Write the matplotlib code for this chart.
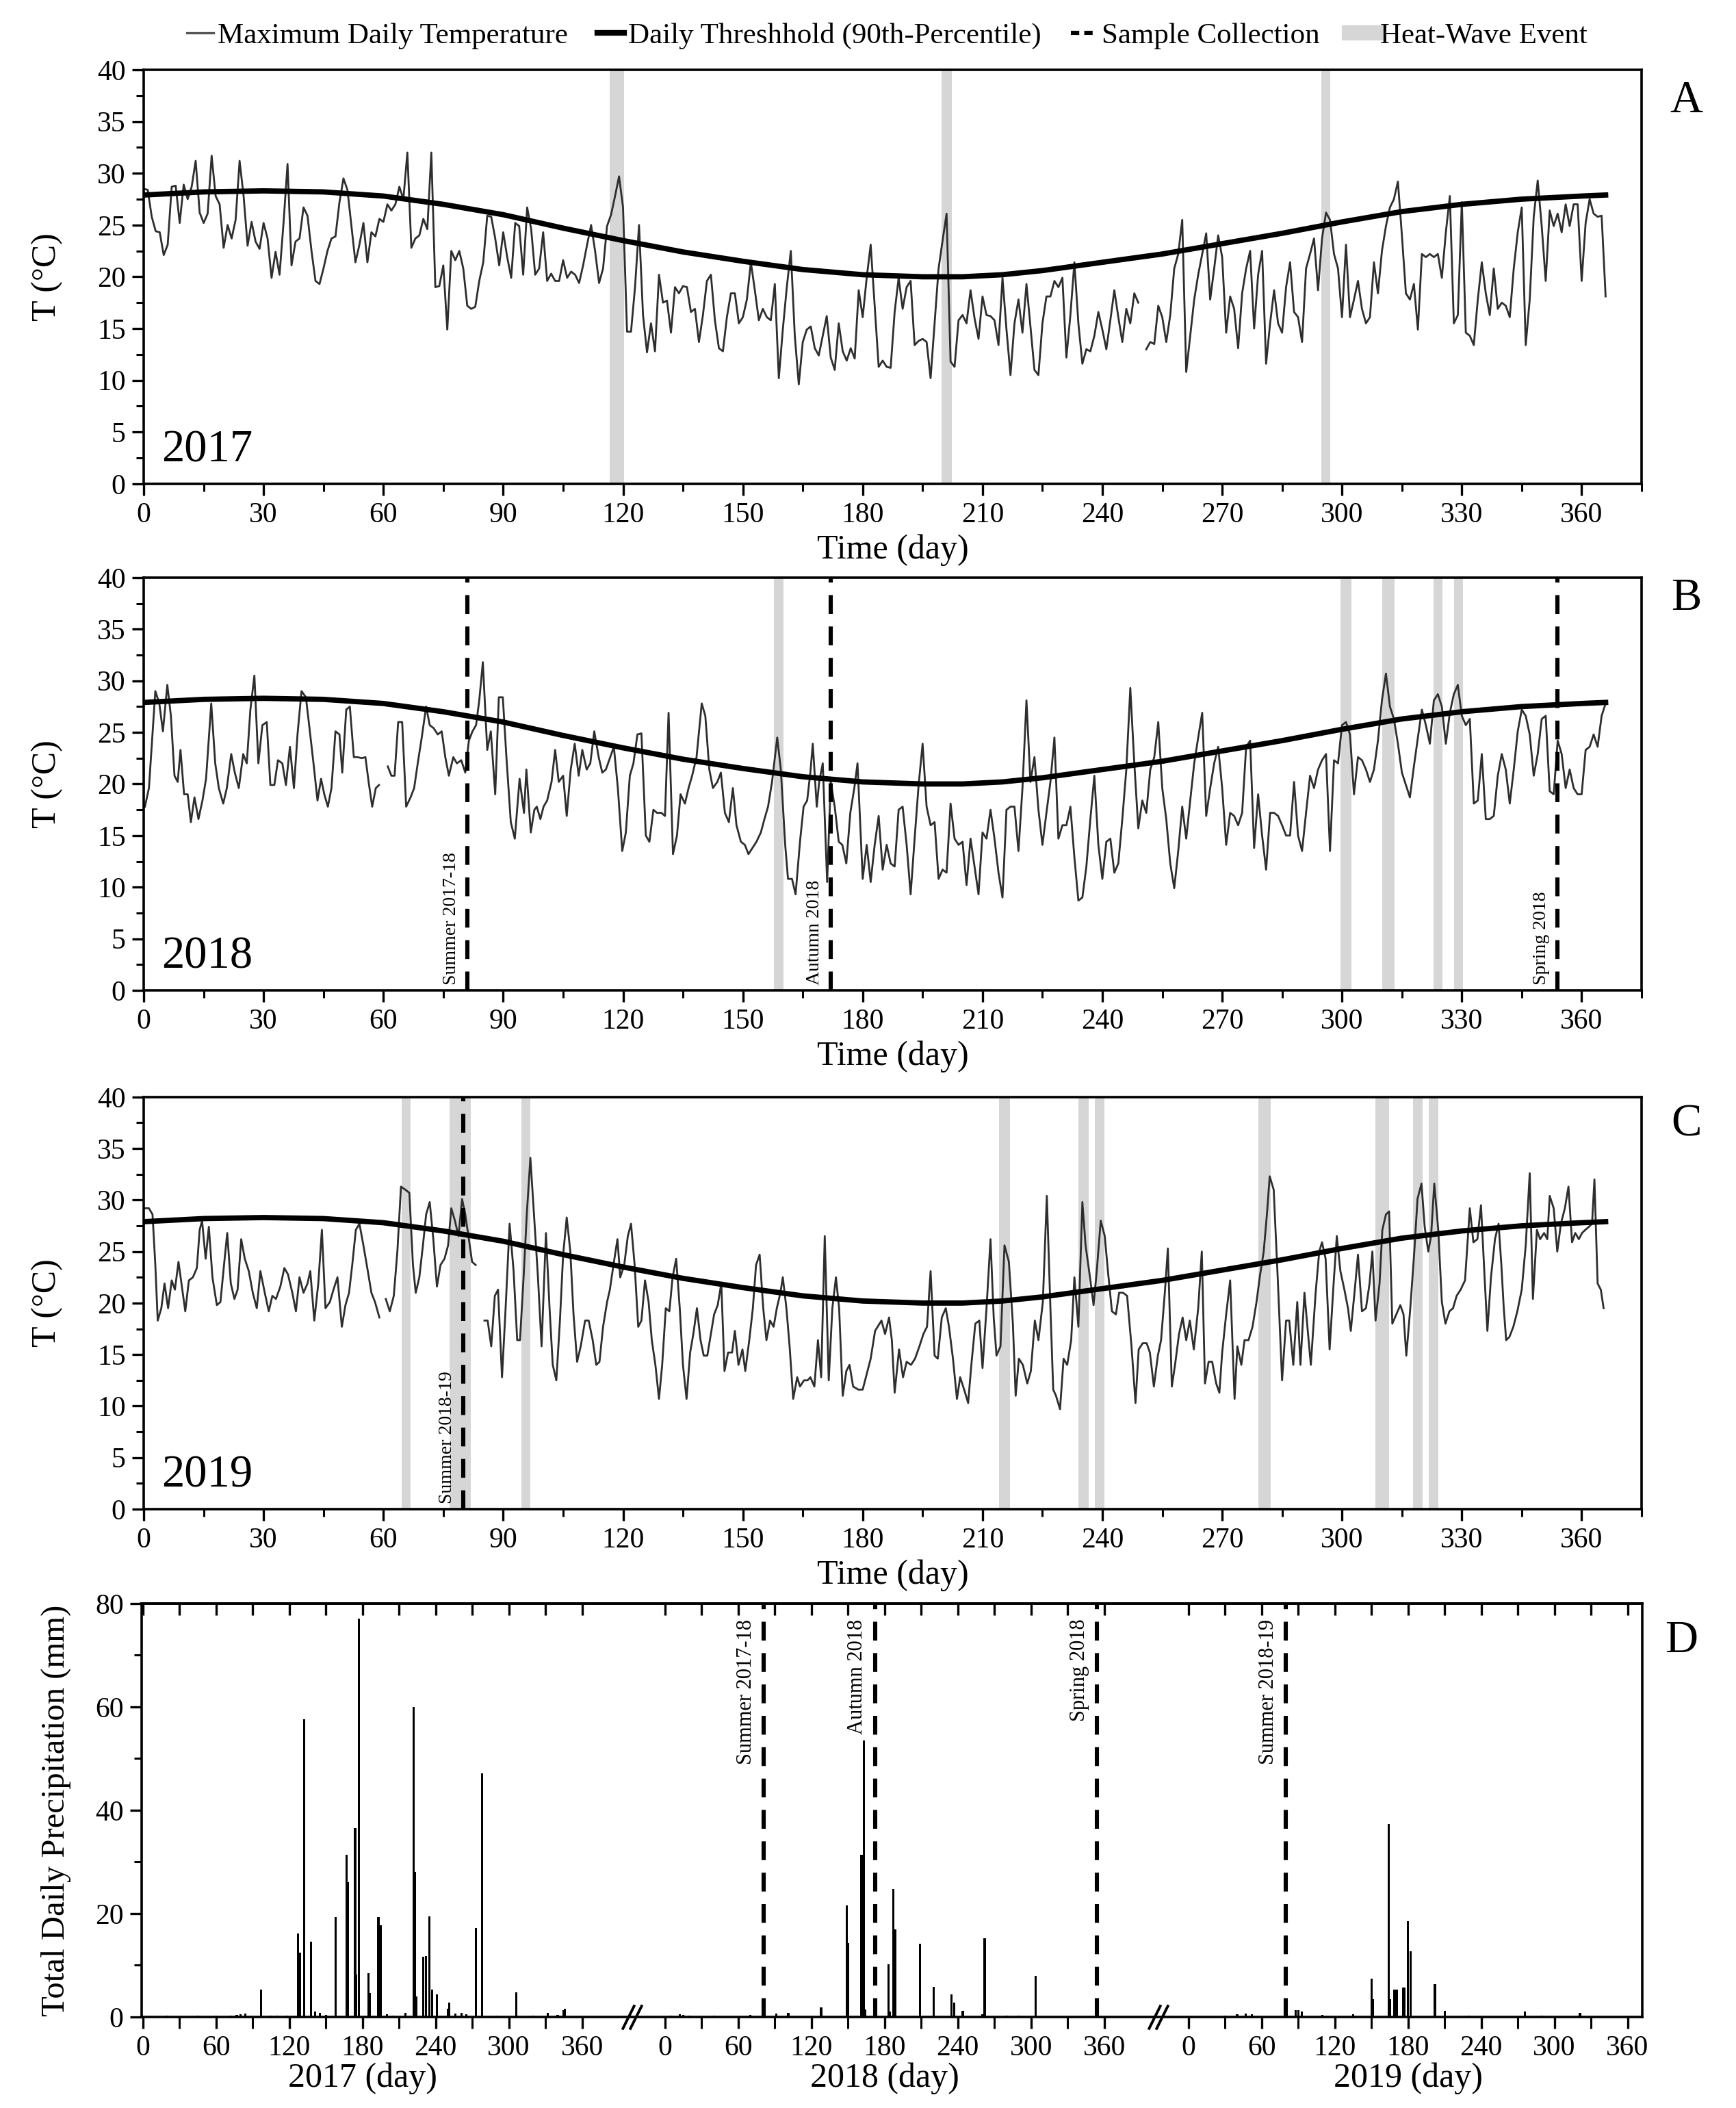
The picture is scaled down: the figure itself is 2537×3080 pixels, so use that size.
import numpy as np
import matplotlib
matplotlib.use("Agg")
from matplotlib import pyplot as plt
from matplotlib.lines import Line2D
from matplotlib.ticker import MultipleLocator
import matplotlib.transforms as mtransforms

plt.rcParams['font.family'] = ['Liberation Serif', 'DejaVu Serif']

nan = np.nan

# ---------------- data ----------------
# daily threshold (90th percentile), same curve in the three years
thr_day = [0, 15, 30, 45, 60, 75, 90, 105, 120, 135, 150, 165, 180, 195, 205,
           215, 225, 240, 255, 270, 285, 300, 315, 330, 345, 360, 366]
thr_temp = [27.9, 28.2, 28.3, 28.2, 27.8, 27.0, 26.0, 24.7, 23.5, 22.4, 21.5, 20.7, 20.2, 20.0, 20.0,
            20.2, 20.6, 21.4, 22.2, 23.2, 24.2, 25.3, 26.3, 27.0, 27.5, 27.8, 27.9]

# 2017 max daily temperature, day 0..366
a_tmax = [
    28.5, 28.4, 25.8, 24.4, 24.3, 22.1, 23.1, 28.7, 28.8, 25.2,
    28.9, 27.5, 28.7, 31.2, 26.2, 25.2, 26.1, 31.7, 27.8, 27.0,
    22.8, 25.0, 23.7, 25.5, 31.2, 27.8, 23.0, 25.3, 23.4, 22.7,
    25.2, 23.7, 19.9, 22.4, 20.2, 25.2, 30.9, 21.1, 23.4, 23.7,
    26.7, 25.9, 22.5, 19.6, 19.3, 20.8, 22.5, 23.7, 23.9, 27.2,
    29.5, 28.4, 24.9, 21.4, 23.1, 25.2, 21.4, 24.3, 23.9, 25.6,
    25.3, 27.0, 26.4, 27.0, 28.7, 27.5, 32.0, 22.8, 23.7, 24.0,
    25.6, 24.6, 32.0, 19.0, 19.1, 21.1, 14.9, 22.5, 21.6, 22.5,
    20.8, 17.2, 16.9, 17.1, 19.6, 21.4, 25.9, 25.8, 23.7, 21.1,
    24.3, 21.9, 19.9, 25.2, 24.9, 20.2, 26.7, 24.6, 20.2, 20.8,
    24.3, 19.6, 20.3, 19.6, 19.6, 21.6, 19.9, 20.5, 20.2, 19.4,
    21.1, 23.1, 25.0, 22.5, 19.4, 20.8, 24.9, 26.0, 27.8, 29.7,
    26.7, 14.7, 14.7, 19.0, 25.0, 16.3, 12.7, 15.5, 12.8, 20.2,
    17.5, 17.7, 14.6, 19.0, 18.4, 19.1, 19.0, 16.6, 16.9, 13.7,
    16.3, 19.6, 20.2, 15.8, 13.1, 12.8, 16.1, 18.4, 18.4, 15.5,
    16.1, 17.8, 21.4, 18.7, 15.8, 16.9, 16.1, 15.8, 19.3, 10.2,
    14.9, 19.0, 22.5, 14.3, 9.6, 13.7, 14.9, 15.2, 13.1, 12.4,
    14.3, 16.2, 12.2, 11.0, 15.5, 12.8, 11.9, 13.1, 12.1, 18.7,
    16.1, 19.9, 23.1, 17.2,
    11.3, 11.9, 11.3, 11.2, 16.6, 19.9, 16.9, 19.0, 19.6, 13.4,
    13.8, 14.0, 13.7, 10.2, 15.5, 20.8, 23.5, 26.1, 11.8, 11.3,
    15.8, 16.3, 15.5, 18.7, 16.0, 14.0, 18.1, 16.3, 16.2, 15.8,
    13.4, 19.9, 14.9, 10.5, 15.5, 17.8, 14.6, 19.3, 15.2, 11.0,
    10.5, 15.5, 18.1, 18.1, 19.6, 19.0, 19.9, 12.2, 16.3, 21.4,
    15.5, 11.6, 13.0, 12.8, 14.3, 16.6, 14.9, 13.0, 15.8, 18.7,
    16.1, 13.7, 16.9, 15.5, 18.4, 17.5, nan, 13.0, 13.7, 13.5,
    17.2, 16.1, 13.7, 16.3, 20.8, 22.2, 25.5, 10.8, 14.3, 17.8,
    20.2, 22.2, 24.2, 17.8, 20.8, 24.0, 21.9, 14.6, 18.1, 16.9,
    13.1, 18.4, 20.8, 22.5, 15.0, 20.2, 22.5, 11.6, 15.5, 18.7,
    15.5, 14.6, 19.0, 21.4, 16.6, 16.1, 13.7, 20.8, 22.2, 23.7,
    18.7, 23.7, 26.2, 25.5, 22.2, 20.8, 16.1, 23.1, 16.1, 17.8,
    19.6, 16.9, 15.5, 16.1, 21.4, 18.4, 22.5, 24.9, 26.7, 27.5,
    29.2, 24.0, 18.4, 17.8, 19.3, 14.9, 22.2, 21.9, 22.2, 21.9,
    22.2, 19.9, 24.3, 27.8, 15.5, 16.3, 27.2, 14.6, 14.3, 13.4,
    17.8, 21.4, 18.4, 16.3, 20.8, 16.9, 17.5, 17.2, 16.1, 20.8,
    24.3, 26.7, 13.4, 17.8, 25.8, 29.3, 24.9, 19.6, 26.4, 24.9,
    26.1, 24.3, 27.0, 24.9, 27.0, 27.0, 19.6, 25.2, 27.5, 26.1,
    25.8, 25.9, 18.1,
]
a_day = np.arange(len(a_tmax))

# 2018: first half read at line vertices, second half daily from day 180
b_day_early = [
    0.3, 1.3, 2.9, 3.9, 4.8, 5.9, 6.8, 7.7, 8.5, 9.2,
    10.1, 11.0, 11.8, 12.7, 13.7, 14.7, 15.6, 16.9, 17.9, 18.8,
    19.9, 20.8, 21.9, 22.8, 23.8, 24.9, 25.8, 26.7, 27.7, 28.7,
    29.7, 30.8, 31.7, 32.7, 33.6, 34.7, 35.6, 36.6, 37.6, 38.5,
    39.5, 40.6, 41.5, 42.5, 43.5, 44.4, 45.2, 46.1, 47.0, 48.0,
    49.0, 49.7, 50.7, 51.6, 52.6, 53.5, 54.6, 55.5, 56.3, 57.2,
    58.1, 58.9, 60.0, 61.1, 62.0, 62.8, 63.7, 64.7, 65.7, 66.8,
    67.7, 68.6, 69.6, 70.7, 71.6, 72.6, 73.6, 74.6, 75.5, 76.4,
    77.5, 78.4, 79.5, 80.5, 81.4, 82.3, 83.2, 84.0, 84.9, 86.0,
    86.9, 88.0, 88.9, 89.9, 90.8, 91.9, 92.9, 94.1, 95.2, 95.8,
    96.9, 97.8, 98.4, 99.3, 100.1, 101.0, 102.1, 103.0, 103.9, 105.0,
    105.9, 106.9, 107.9, 108.9, 109.8, 110.9, 111.8, 112.8, 113.9, 114.8,
    115.7, 116.8, 117.7, 118.7, 119.8, 120.7, 121.7, 122.6, 123.6, 124.6,
    125.7, 126.6, 127.6, 128.5, 129.6, 130.5, 131.4, 132.5, 133.5, 134.4,
    135.5, 136.4, 137.3, 138.4, 139.7, 140.6, 141.6, 142.5, 143.6, 144.5,
    145.5, 146.5, 147.5, 148.4, 149.5, 150.5, 151.4, 152.4, 153.4, 154.5,
    155.4, 156.3, 157.3, 158.6, 159.5, 160.6, 161.3, 162.3, 163.2, 164.3,
    165.2, 166.1, 166.9, 167.5, 168.5, 169.1, 170.0, 171.1, 172.0, 173.0,
    174.0, 174.9, 175.9, 176.9, 177.9, 178.7,
]
b_tmax_early = [
    17.8, 19.6, 29.0, 27.8, 25.1, 29.6, 26.6, 20.8, 20.2, 23.3,
    19.0, 19.0, 16.3, 18.7, 16.6, 18.4, 20.5, 27.8, 22.0, 19.6,
    18.1, 19.6, 22.9, 21.1, 19.6, 22.9, 22.0, 27.2, 30.5, 22.0,
    25.7, 26.0, 19.9, 19.9, 22.3, 22.0, 19.9, 23.6, 19.6, 24.8,
    29.0, 28.4, 25.4, 22.0, 18.4, 20.5, 19.0, 17.8, 19.6, 25.1,
    24.8, 21.1, 27.2, 27.5, 22.6, 22.6, 22.5, 22.6, 20.2, 17.8,
    19.6, 19.9, nan, 21.7, 20.8, 20.8, 26.0, 26.0, 17.8, 18.7,
    19.6, 22.0, 24.5, 27.5, 25.7, 25.4, 24.8, 25.1, 22.6, 20.8,
    22.6, 22.0, 22.3, 21.1, 24.2, 25.1, 25.7, 28.1, 31.8, 23.3,
    25.1, 19.0, 28.4, 28.4, 22.6, 16.3, 14.7, 20.5, 17.2, 21.4,
    15.3, 17.5, 17.8, 16.6, 17.8, 18.4, 20.2, 23.3, 20.2, 20.8,
    16.9, 21.4, 23.9, 20.8, 23.3, 21.4, 22.0, 25.1, 22.6, 21.1,
    21.4, 22.6, 23.6, 19.6, 13.5, 15.3, 20.8, 22.0, 24.8, 24.9,
    15.0, 14.4, 17.5, 17.2, 17.2, 16.9, 26.9, 13.2, 15.0, 19.0,
    18.1, 19.6, 20.8, 22.6, 27.8, 26.6, 21.4, 19.6, 20.2, 21.1,
    17.2, 16.3, 19.6, 16.0, 14.4, 14.1, 13.2, 13.8, 14.4, 15.3,
    16.6, 17.8, 20.2, 24.5, 21.4, 14.1, 10.8, 10.8, 9.3, 14.4,
    17.8, 18.4, 21.1, 23.9, 17.8, 20.2, 22.0, 10.5, 20.2, 17.8,
    14.4, 14.1, 12.3, 17.2, 19.6, 22.0,
]
b_tmax_late = [
    10.8, 14.1, 10.5, 14.1, 16.9, 11.7, 14.1, 12.3, 12.0, 17.5,
    17.8, 14.1, 9.3, 14.7, 19.9, 23.9, 17.8, 16.0, 16.3, 10.8,
    11.7, 11.4, 18.1, 14.7, 14.1, 14.4, 10.2, 14.7, 12.0, 9.3,
    15.3, 14.7, 17.5, 14.7, 11.4, 9.0, 17.5, 17.8, 17.8, 13.5,
    19.6, 28.1, 20.2, 22.6, 17.5, 14.1, 17.2, 20.2, 24.5, 14.7,
    16.0, 16.0, 17.8, 12.9, 8.7, 9.0, 12.0, 16.6, 20.8, 14.1,
    10.8, 14.4, 14.7, 11.4, 12.3, 16.6, 21.4, 29.3, 22.0, 15.7,
    18.4, 17.2, 21.4, 22.6, 26.0, 19.6, 16.6, 12.3, 9.9, 13.5,
    17.8, 14.7, 18.4, 22.0, 24.5, 26.9, 16.9, 19.6, 22.0, 23.6,
    19.6, 14.1, 17.2, 16.9, 16.0, 17.2, 23.6, 24.2, 13.8, 19.0,
    15.0, 11.7, 17.2, 17.2, 16.9, 16.0, 15.0, 15.0, 20.2, 15.0,
    13.5, 17.2, 20.8, 19.6, 21.4, 22.3, 22.9, 13.5, 22.3, 22.0,
    25.7, 26.0, 24.8, 19.0, 22.6, 22.3, 21.4, 20.2, 21.4, 24.2,
    28.1, 30.7, 27.5, 26.3, 23.9, 21.1, 19.9, 18.7, 21.7, 24.5,
    27.2, 25.7, 23.9, 28.1, 28.7, 27.5, 23.9, 26.9, 28.7, 29.6,
    26.6, 25.7, 26.3, 18.1, 18.4, 22.9, 16.6, 16.6, 16.9, 20.8,
    22.9, 21.4, 18.1, 21.4, 25.1, 27.2, 26.6, 24.8, 20.8, 22.9,
    26.3, 26.6, 19.3, 19.0, 24.2, 22.9, 19.6, 21.4, 19.6, 19.0,
    19.0, 23.3, 23.6, 24.8, 23.6, 26.6, 27.8,
]
b_day = b_day_early + list(range(180, 180 + len(b_tmax_late)))
b_tmax = b_tmax_early + b_tmax_late

# 2019, read at line vertices
c_day = [
    0.3, 1.3, 2.2, 2.9, 3.5, 4.4, 5.2, 6.1, 7.0, 7.8,
    8.7, 10.4, 11.3, 12.3, 13.3, 14.0, 14.6, 15.5, 16.3, 17.2,
    18.3, 19.2, 20.1, 20.9, 21.8, 22.7, 23.5, 24.4, 25.3, 26.3,
    27.3, 28.3, 29.2, 30.3, 31.3, 32.2, 33.1, 34.2, 35.2, 36.1,
    37.2, 38.1, 39.0, 40.0, 41.0, 41.7, 42.7, 43.7, 44.6, 45.5,
    46.6, 47.5, 48.5, 49.6, 50.5, 51.4, 52.2, 53.1, 54.0, 55.0,
    56.1, 57.0, 57.9, 59.0, 59.8, 60.6, 61.6, 62.6, 63.5, 64.4,
    65.5, 66.5, 67.4, 68.1, 69.0, 69.9, 70.7, 71.6, 72.5, 73.4,
    74.3, 75.3, 76.2, 77.0, 77.9, 78.8, 79.7, 80.5, 81.4, 82.2,
    83.1, 84.2, 85.3, 86.1, 87.0, 87.9, 88.7, 89.7, 90.6, 91.6,
    92.6, 93.5, 94.2, 95.1, 95.9, 96.8, 97.8, 98.7, 99.6, 100.7,
    101.6, 102.4, 103.3, 104.2, 105.0, 105.9, 106.8, 107.6, 108.5, 109.4,
    110.5, 111.4, 112.4, 113.3, 114.1, 115.0, 116.0, 116.7, 117.6, 118.6,
    119.3, 120.3, 121.2, 122.0, 122.9, 123.8, 124.6, 125.5, 126.4, 127.2,
    128.1, 129.0, 129.8, 130.7, 131.6, 132.4, 133.3, 134.2, 135.0, 135.9,
    136.8, 137.6, 138.5, 139.4, 140.2, 141.1, 142.0, 142.8, 143.7, 144.6,
    145.4, 146.3, 147.3, 148.0, 148.9, 149.9, 150.6, 151.6, 152.5, 153.3,
    154.2, 155.1, 155.9, 156.8, 157.7, 158.5, 159.4, 160.0, 160.9, 161.7,
    162.6, 163.6, 164.3, 165.3, 166.2, 166.9, 167.9, 168.8, 169.6, 170.5,
    171.5, 172.4, 173.3, 174.1, 175.0, 175.9, 176.7, 177.6, 178.9, 180.0,
    182.0, 183.1, 184.7, 185.6, 186.6, 187.3, 188.0, 189.1, 190.1, 191.0,
    192.1, 193.1, 194.2, 195.2, 196.1, 197.0, 198.0, 198.8, 199.8, 200.8,
    201.6, 202.6, 203.6, 204.4, 205.4, 206.4, 207.2, 208.2, 209.2, 210.0,
    211.0, 212.0, 212.8, 213.5, 214.5, 215.5, 216.6, 217.6, 218.3, 219.1,
    220.1, 221.2, 222.1, 223.1, 224.0, 225.1, 226.1, 227.0, 227.7, 228.4,
    229.4, 230.3, 231.2, 232.2, 233.0, 234.0, 235.0, 235.8, 236.8, 237.8,
    238.6, 239.6, 240.6, 241.4, 242.4, 243.4, 244.2, 245.2, 246.2, 247.3,
    248.3, 249.1, 250.1, 251.1, 251.9, 252.9, 253.9, 254.7, 255.7, 256.4,
    257.4, 258.2, 259.2, 260.1, 261.0, 261.9, 262.9, 264.0, 264.9, 265.7,
    266.6, 267.5, 268.5, 269.3, 270.0, 271.0, 272.0, 273.1, 273.8, 274.8,
    275.6, 276.6, 277.6, 278.6, 279.4, 280.4, 281.2, 281.9, 282.9, 283.9,
    285.0, 286.0, 286.8, 287.8, 288.8, 289.6, 290.6, 291.5, 292.2, 293.4,
    294.3, 295.0, 295.9, 296.9, 297.9, 298.7, 299.6, 300.6, 301.5, 302.2,
    303.2, 304.0, 305.0, 306.0, 306.9, 307.6, 308.4, 309.4, 310.1, 311.0,
    311.8, 312.6, 313.6, 314.6, 315.4, 316.1, 317.1, 318.1, 318.9, 319.9,
    320.7, 321.6, 322.3, 323.1, 324.1, 325.0, 325.9, 326.9, 327.8, 328.7,
    329.7, 330.8, 332.0, 332.9, 333.9, 334.8, 335.7, 336.4, 337.3, 338.3,
    339.2, 339.9, 340.5, 341.1, 341.9, 342.9, 343.9, 345.0, 346.0, 347.0,
    347.8, 348.8, 349.6, 350.6, 351.4, 352.0, 353.0, 353.9, 354.8, 355.8,
    356.7, 357.6, 358.4, 359.3, 360.1, 360.9, 361.8, 362.6, 363.2, 364.0,
    364.8, 365.5,
]
c_tmax = [
    29.2, 29.2, 28.6, 23.7, 18.3, 19.5, 21.9, 19.5, 22.2, 21.3,
    24.0, 19.2, 22.2, 22.5, 23.4, 27.1, 28.0, 24.3, 27.4, 22.5,
    19.8, 20.1, 23.7, 26.8, 21.9, 20.4, 21.3, 26.2, 24.3, 23.1,
    21.0, 19.5, 23.1, 21.0, 19.2, 20.7, 20.4, 21.6, 23.4, 22.8,
    21.0, 19.2, 22.5, 21.0, 21.9, 23.1, 18.3, 21.9, 27.1, 19.5,
    20.1, 21.3, 22.5, 17.7, 19.8, 21.0, 23.7, 27.1, 27.7, 25.6,
    23.1, 21.0, 20.1, 18.6, nan, 20.4, 19.2, 20.7, 25.0, 31.3,
    31.0, 30.7, 23.7, 21.0, 22.5, 25.6, 28.6, 29.8, 26.2, 21.6,
    23.7, 24.3, 25.6, 29.2, 28.0, 26.5, 30.1, 28.6, 26.2, 24.0,
    23.7, nan, 18.3, 18.3, 15.8, 20.7, 21.3, 12.8, 19.5, 27.7,
    23.1, 16.4, 16.4, 22.5, 28.6, 34.1, 28.0, 22.5, 15.8, 26.8,
    19.5, 14.0, 12.5, 18.3, 24.7, 28.3, 25.0, 18.9, 14.3, 15.8,
    18.3, 18.3, 16.4, 14.0, 14.3, 17.7, 20.1, 21.3, 23.7, 26.2,
    22.5, 23.7, 26.5, 27.7, 23.7, 17.7, 18.3, 22.2, 20.1, 16.4,
    14.0, 10.7, 14.0, 19.5, 19.2, 22.5, 24.3, 19.5, 14.0, 10.7,
    15.2, 17.0, 19.5, 16.4, 14.9, 14.9, 17.0, 18.9, 19.8, 21.9,
    13.4, 15.2, 15.2, 17.3, 14.0, 15.5, 13.4, 16.4, 19.5, 23.7,
    24.7, 19.5, 16.4, 18.3, 17.7, 19.5, 21.0, 22.5, 19.5, 15.8,
    10.7, 12.8, 11.9, 12.5, 12.5, 12.8, 11.9, 16.4, 12.8, 26.5,
    12.5, 19.5, 22.5, 19.5, 11.0, 13.4, 14.0, 11.9, 11.6, 11.6,
    14.6, 17.3, 18.3, 17.0, 18.6, 16.4, 11.3, 15.5, 12.8, 14.3,
    14.0, 14.6, 15.8, 17.0, 17.7, 23.1, 14.9, 14.6, 18.6, 19.5,
    17.7, 14.6, 10.7, 12.8, 11.6, 10.3, 14.0, 18.0, 18.3, 13.7,
    19.5, 26.2, 18.6, 14.9, 15.8, 25.6, 24.0, 18.0, 11.0, 14.6,
    14.0, 12.2, 13.4, 18.3, 16.4, 20.1, 30.4, 19.5, 11.6, 11.0,
    9.7, 14.6, 14.0, 16.4, 22.5, 17.7, 29.8, 25.6, 22.8, 19.8,
    23.1, 28.0, 26.5, 23.1, 19.2, 18.9, 21.0, 21.0, 20.7, 15.8,
    10.3, 15.5, 16.1, 16.1, 15.2, 11.9, 14.9, 16.4, 21.3, 25.3,
    11.9, 14.0, 17.0, 18.6, 16.4, 18.3, 15.5, 19.5, 25.0, 12.2,
    14.3, 14.3, 12.2, 11.3, 15.2, 18.9, 22.2, 10.7, 15.8, 14.0,
    16.4, 16.4, 17.7, 20.1, 22.5, 25.0, 28.6, 32.3, 31.0, 22.5,
    12.5, 18.3, 18.3, 14.0, 20.1, 14.0, 21.0, 17.0, 14.0, 21.0,
    25.0, 25.9, 24.3, 15.5, 21.9, 26.5, 23.1, 21.3, 19.5, 17.3,
    21.3, 24.7, 19.2, 19.5, 21.9, 25.0, 18.3, 21.9, 27.1, 28.6,
    28.9, 18.0, 18.9, 19.8, 18.9, 14.9, 19.5, 25.0, 30.1, 31.6,
    27.4, 25.0, 26.5, 31.6, 27.1, 20.1, 18.0, 19.2, 19.5, 20.7,
    21.3, 22.2, 29.2, 25.9, 26.2, 29.5, 22.5, 17.3, 22.5, 26.2,
    27.7, 23.7, 19.5, 16.4, 16.7, 17.7, 19.2, 21.3, 25.6, 32.6,
    20.4, 27.1, 26.2, 26.8, 26.2, 30.4, 29.2, 25.0, 27.7, 29.2,
    31.3, 25.9, 26.8, 26.2, 26.8, 27.1, 27.4, 27.7, 32.0, 21.9,
    21.3, 19.5,
]

# heat-wave events (start day, end day)
a_hw_start = [116.6, 199.7, 294.8]
a_hw_end = [120.3, 202.4, 297.1]
b_hw_start = [157.7, 299.7, 310.0, 322.9, 328.0]
b_hw_end = [160.2, 302.3, 313.1, 325.2, 330.3]
c_hw_start = [64.6, 76.6, 94.6, 214.2, 234.0, 238.2, 279.1, 308.4, 317.8, 321.7]
c_hw_end = [66.8, 81.8, 96.8, 216.9, 236.5, 240.6, 282.2, 311.8, 320.2, 324.1]

# sample collection dates
b_sample_day = [81, 172, 354]
b_sample_name = ['Summer 2017-18', 'Autumn 2018', 'Spring 2018']
c_sample_day = [80]
c_sample_name = ['Summer 2018-19']

# daily precipitation (mm)
p17_day = [20, 45, 60, 72, 77, 80, 84, 97, 105, 110,
           118, 127, 129, 132, 138, 141, 145, 150, 158, 167,
           168, 174, 175, 177, 185, 186, 193, 195, 200, 205,
           215, 222, 223, 224, 230, 232, 235, 237, 241, 250,
           251, 256, 261, 265, 273, 278, 290, 306, 320, 332,
           340, 345, 346]
p17_mm = [0.2, 0.3, 0.2, 0.3, 0.4, 0.5, 0.6, 5.3, 0.3, 0.3,
          0.3, 16.1, 12.4, 57.6, 14.5, 1.0, 0.8, 0.4, 19.3, 31.4,
          26.1, 36.6, 8.2, 77.1, 8.5, 4.6, 19.3, 17.7, 0.5, 0.3,
          0.8, 60.0, 28.1, 3.9, 11.6, 11.8, 19.5, 5.3, 4.4, 1.6,
          2.8, 0.6, 0.8, 0.5, 17.2, 47.1, 0.3, 4.7, 0.3, 0.8,
          0.4, 1.3, 1.6]
p18_day = [5, 12, 15, 20, 40, 70, 91, 101, 128, 149,
           150, 161, 163, 164, 183, 184, 187, 189, 209, 220,
           235, 237, 244, 260, 262, 280, 290, 304]
p18_mm = [0.3, 0.5, 0.4, 0.3, 0.2, 0.4, 0.7, 0.8, 1.8, 21.6,
          14.3, 31.4, 53.5, 1.5, 10.2, 1.0, 24.7, 16.9, 14.2, 5.8,
          4.4, 2.8, 1.2, 0.5, 15.2, 0.2, 0.3, 8.0]
p19_day = [30, 40, 47, 52, 88, 90, 93, 110, 135, 150,
           151, 164, 165, 169, 171, 176, 177, 180, 182, 202,
           210, 230, 276, 290, 321]
p19_mm = [0.2, 0.5, 0.6, 0.5, 1.3, 1.3, 1.0, 0.4, 0.5, 7.4,
          3.4, 37.3, 3.4, 5.3, 5.3, 5.7, 5.7, 18.6, 12.7, 6.3,
          1.2, 0.3, 1.0, 0.3, 0.8]

years = ['2017', '2018', '2019']
year_offset = [0, 428, 857]      # where each year starts on the broken axis of D
axis_breaks = [401, 832]
d_sample_day = [428 + 81, 428 + 172, 428 + 354, 857 + 80]
d_sample_name = ['Summer 2017-18', 'Autumn 2018', 'Spring 2018', 'Summer 2018-19']

# ---------------- styling ----------------
HW_GREY = '#d6d6d6'
T_COLOR = '#2e2e2e'
DASHES = (4.5, 3)


def style_axes(ax):
    for s in ax.spines.values():
        s.set_linewidth(1.3)
    ax.tick_params(which='major', length=6, width=1.2, labelsize=15, direction='out')
    ax.tick_params(which='minor', length=4, width=1.1, direction='out')


def temp_panel(ax, day, tmax, hw_start, hw_end, sample_day, sample_name, year, letter, letter_y):
    for s, e in zip(hw_start, hw_end):
        ax.axvspan(s, e, color=HW_GREY, lw=0, zorder=0)
    ax.plot(day, tmax, color=T_COLOR, lw=1.0, zorder=2)
    ax.plot(thr_day, thr_temp, color='black', lw=2.8, zorder=3, solid_joinstyle='round')
    for x, name in zip(sample_day, sample_name):
        ax.axvline(x, color='black', lw=2.2, dashes=DASHES, zorder=4)
        ax.annotate(name, xy=(x, 0.5), xytext=(-4, 0), textcoords='offset points',
                    rotation=90, ha='right', va='bottom', fontsize=10)
    ax.set_xlim(0, 375)
    ax.set_ylim(0, 40)
    ax.xaxis.set_major_locator(MultipleLocator(30))
    ax.xaxis.set_minor_locator(MultipleLocator(15))
    ax.yaxis.set_major_locator(MultipleLocator(5))
    ax.yaxis.set_minor_locator(MultipleLocator(2.5))
    style_axes(ax)
    ax.set_xlabel('Time (day)', fontsize=18)
    ax.set_ylabel('T (°C)', fontsize=18)
    ax.xaxis.set_label_coords(0.5, -0.122)
    ax.yaxis.set_label_coords(-0.054, 0.5)
    ax.text(0.012, 0.03, year, transform=ax.transAxes, fontsize=24, ha='left', va='bottom')
    ax.text(1.03, letter_y, letter, transform=ax.transAxes, fontsize=24, ha='center', va='center')


fig = plt.figure(figsize=(2537 / 200, 3080 / 200), dpi=200)

ax_a = fig.add_axes([0.0828, 0.7705, 0.8628, 0.1964])
ax_b = fig.add_axes([0.0828, 0.5302, 0.8628, 0.1958])
ax_c = fig.add_axes([0.0828, 0.2841, 0.8628, 0.1955])
ax_d = fig.add_axes([0.0816, 0.0432, 0.8644, 0.1961])

temp_panel(ax_a, a_day, a_tmax, a_hw_start, a_hw_end, [], [], '2017', 'A', 0.925)
temp_panel(ax_b, b_day, b_tmax, b_hw_start, b_hw_end, b_sample_day, b_sample_name, '2018', 'B', 0.95)
temp_panel(ax_c, c_day, c_tmax, c_hw_start, c_hw_end, c_sample_day, c_sample_name, '2019', 'C', 0.934)

# ---- D: precipitation on a broken, three-year axis ----
for off, days, mm in zip(year_offset, [p17_day, p18_day, p19_day], [p17_mm, p18_mm, p19_mm]):
    ax_d.bar(np.array(days) + off, mm, width=1.8, color='black', lw=0, zorder=3)

for x, name in zip(d_sample_day, d_sample_name):
    ax_d.vlines(x, 0, 80, color='black', lw=2.2, linestyles=[(0, DASHES)], zorder=4)
    ax_d.annotate(name, xy=(x, 77), xytext=(-4, 0), textcoords='offset points',
                  rotation=90, ha='right', va='top', fontsize=11)

ax_d.set_xlim(-1, 1229)
ax_d.set_ylim(0, 80)
major = [off + d for off in year_offset for d in range(0, 361, 60)]
major_lbl = [str(d) for off in year_offset for d in range(0, 361, 60)]
ax_d.set_xticks(major, major_lbl)
ax_d.set_xticks([off + d for off in year_offset for d in range(30, 361, 60)], minor=True)
ax_d.yaxis.set_major_locator(MultipleLocator(20))
ax_d.yaxis.set_minor_locator(MultipleLocator(10))
style_axes(ax_d)
ax_d.tick_params(axis='x', which='minor', length=6)

top = ax_d.secondary_xaxis('top')
top.set_xticks([off + d for off in year_offset for d in range(0, 361, 30)])
top.tick_params(axis='x', direction='in', length=6, width=1.2, labeltop=False)
top.spines['top'].set_linewidth(1.3)

# break marks on the bottom axis
for bx in axis_breaks:
    ax_d.plot([bx - 3, bx + 3], [0, 0], ls='none', marker=[(-1, -2), (1, 2)], ms=13,
              mew=1.4, color='black', clip_on=False, zorder=6)

trans = mtransforms.blended_transform_factory(ax_d.transData, ax_d.transAxes)
for off, yr in zip(year_offset, years):
    ax_d.text(off + 180, -0.149, f'{yr} (day)', transform=trans, ha='center', va='center', fontsize=18)

ax_d.set_ylabel('Total Daily Precipitation (mm)', fontsize=17.5)
ax_d.yaxis.set_label_coords(-0.047, 0.5)
ax_d.text(1.026, 0.909, 'D', transform=ax_d.transAxes, fontsize=24, ha='center', va='center')

# ---- legend on top ----
handles = [
    Line2D([], [], color='#555555', lw=1.2),
    Line2D([], [], color='black', lw=3),
    Line2D([], [], color='black', lw=2.2, dashes=(2.0, 1.2)),
    Line2D([], [], color=HW_GREY, lw=8),
]
labels = ['Maximum Daily Temperature', 'Daily Threshhold (90th-Percentile)',
          'Sample Collection', 'Heat-Wave Event']
fig.legend(handles, labels, loc='center', bbox_to_anchor=(0.511, 0.983), ncol=4,
           frameon=False, fontsize=15.5, handlelength=0.9, handletextpad=0.15, columnspacing=1.0)

fig.savefig('out.png', dpi=200)
plt.close(fig)
